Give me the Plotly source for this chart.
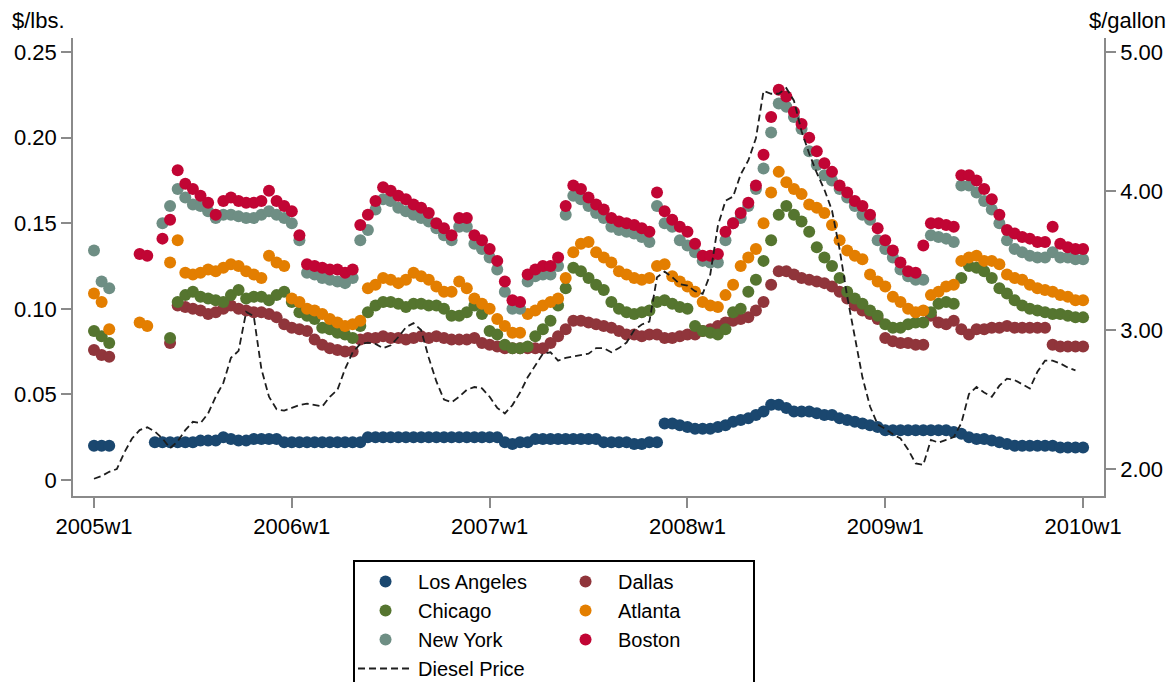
import plotly.graph_objects as go

# weeks since 2005w1 (biweekly observations)
weeks = list(range(0, 261, 2))
tick_weeks = [0, 52, 104, 156, 208, 260]
tick_labels = ["2005w1", "2006w1", "2007w1", "2008w1", "2009w1", "2010w1"]

los_angeles = [
    0.020, 0.020, 0.020, None, None, None, None, None, 0.022, 0.022,
    0.022, 0.022, 0.022, 0.022, 0.023, 0.023, 0.023, 0.025, 0.024, 0.023,
    0.023, 0.024, 0.024, 0.024, 0.024, 0.022, 0.022, 0.022, 0.022, 0.022,
    0.022, 0.022, 0.022, 0.022, 0.022, 0.022, 0.025, 0.025, 0.025, 0.025,
    0.025, 0.025, 0.025, 0.025, 0.025, 0.025, 0.025, 0.025, 0.025, 0.025,
    0.025, 0.025, 0.025, 0.025, 0.022, 0.021, 0.022, 0.022, 0.024, 0.024,
    0.024, 0.024, 0.024, 0.024, 0.024, 0.024, 0.024, 0.022, 0.022, 0.022,
    0.022, 0.021, 0.021, 0.022, 0.022, 0.033, 0.033, 0.032, 0.031, 0.030,
    0.030, 0.030, 0.031, 0.032, 0.034, 0.035, 0.036, 0.038, 0.040, 0.044,
    0.044, 0.042, 0.040, 0.040, 0.040, 0.039, 0.038, 0.038, 0.036, 0.035,
    0.034, 0.033, 0.032, 0.031, 0.029, 0.029, 0.029, 0.029, 0.029, 0.029,
    0.029, 0.029, 0.029, 0.028, 0.027, 0.025, 0.024, 0.024, 0.023, 0.022,
    0.021, 0.020, 0.020, 0.020, 0.020, 0.020, 0.020, 0.019, 0.019, 0.019,
    0.019,
]

dallas = [
    0.076, 0.073, 0.072, None, None, None, None, None, None, None,
    0.080, 0.102, 0.101, 0.100, 0.099, 0.097, 0.098, 0.100, 0.102, 0.100,
    0.099, 0.098, 0.098, 0.097, 0.095, 0.091, 0.089, 0.088, 0.087, 0.082,
    0.079, 0.077, 0.076, 0.075, 0.075, 0.082, 0.083, 0.083, 0.084, 0.083,
    0.083, 0.082, 0.083, 0.084, 0.083, 0.084, 0.083, 0.082, 0.082, 0.082,
    0.083, 0.080, 0.079, 0.078, 0.077, 0.077, 0.077, 0.077, 0.077, 0.077,
    0.080, 0.084, 0.088, 0.093, 0.093, 0.092, 0.091, 0.090, 0.089, 0.087,
    0.085, 0.085, 0.084, 0.085, 0.085, 0.083, 0.083, 0.084, 0.085, 0.085,
    0.087, 0.088, 0.090, 0.092, 0.093, 0.094, 0.095, 0.099, 0.104, 0.114,
    0.122, 0.122, 0.120, 0.118, 0.117, 0.116, 0.115, 0.113, 0.110, 0.106,
    0.102, 0.099, 0.097, 0.094, 0.083, 0.081, 0.080, 0.080, 0.079, 0.079,
    0.096, 0.092, 0.091, 0.093, 0.088, 0.085, 0.088, 0.088, 0.089, 0.089,
    0.090, 0.089, 0.089, 0.089, 0.089, 0.089, 0.079, 0.078, 0.078, 0.078,
    0.078,
]

chicago = [
    0.087, 0.084, 0.080, None, None, None, None, None, None, None,
    0.083, 0.104, 0.108, 0.110, 0.107, 0.106, 0.105, 0.104, 0.108, 0.111,
    0.106, 0.107, 0.107, 0.105, 0.108, 0.110, 0.104, 0.098, 0.096, 0.094,
    0.089, 0.088, 0.086, 0.085, 0.083, 0.090, 0.098, 0.102, 0.104, 0.104,
    0.103, 0.101, 0.103, 0.103, 0.102, 0.102, 0.100, 0.096, 0.096, 0.098,
    0.102, 0.097, 0.087, 0.085, 0.079, 0.077, 0.077, 0.078, 0.084, 0.088,
    0.093, 0.102, 0.112, 0.124, 0.122, 0.118, 0.114, 0.111, 0.104, 0.100,
    0.098, 0.097, 0.098, 0.099, 0.104, 0.105, 0.103, 0.101, 0.100, 0.090,
    0.087, 0.086, 0.085, 0.088, 0.098, 0.100, 0.110, 0.117, 0.128, 0.140,
    0.155, 0.160, 0.155, 0.151, 0.145, 0.136, 0.130, 0.125, 0.118, 0.110,
    0.106, 0.103, 0.099, 0.096, 0.091, 0.089, 0.089, 0.091, 0.092, 0.092,
    0.098, 0.103, 0.104, 0.103, 0.118, 0.125, 0.124, 0.122, 0.118, 0.112,
    0.109, 0.105, 0.102, 0.100, 0.099, 0.098, 0.097, 0.097, 0.096, 0.095,
    0.095,
]

atlanta = [
    0.109, 0.104, 0.088, None, None, None, 0.092, 0.090, None, None,
    0.127, 0.140, 0.121, 0.120, 0.121, 0.123, 0.122, 0.124, 0.126, 0.125,
    0.122, 0.120, 0.118, 0.131, 0.127, 0.125, 0.106, 0.104, 0.100, 0.099,
    0.097, 0.094, 0.092, 0.090, 0.091, 0.093, 0.112, 0.114, 0.118, 0.117,
    0.115, 0.117, 0.121, 0.119, 0.117, 0.113, 0.110, 0.110, 0.116, 0.112,
    0.106, 0.103, 0.100, 0.094, 0.090, 0.086, 0.086, 0.097, 0.099, 0.102,
    0.104, 0.106, 0.118, 0.133, 0.138, 0.139, 0.133, 0.130, 0.127, 0.122,
    0.120, 0.118, 0.117, 0.118, 0.125, 0.126, 0.119, 0.116, 0.113, 0.110,
    0.104, 0.102, 0.101, 0.108, 0.114, 0.125, 0.130, 0.135, 0.150, 0.168,
    0.180, 0.174, 0.170, 0.167, 0.161, 0.159, 0.156, 0.149, 0.140, 0.134,
    0.131, 0.129, 0.120, 0.116, 0.113, 0.107, 0.104, 0.100, 0.098, 0.099,
    0.108, 0.110, 0.113, 0.114, 0.128, 0.130, 0.131, 0.128, 0.128, 0.126,
    0.120, 0.118, 0.117, 0.114, 0.112, 0.111, 0.110, 0.108, 0.107, 0.105,
    0.105,
]

new_york = [
    0.134, 0.116, 0.112, None, None, None, None, None, None, 0.150,
    0.160, 0.170, 0.165, 0.161, 0.160, 0.157, 0.153, 0.155, 0.155, 0.154,
    0.153, 0.153, 0.155, 0.157, 0.155, 0.153, 0.150, 0.140, 0.121, 0.120,
    0.118, 0.117, 0.116, 0.115, 0.118, 0.140, 0.146, 0.158, 0.164, 0.163,
    0.159, 0.157, 0.155, 0.153, 0.151, 0.147, 0.143, 0.140, 0.148, 0.148,
    0.138, 0.135, 0.130, 0.123, 0.110, 0.100, 0.100, 0.116, 0.119, 0.120,
    0.120, 0.125, 0.155, 0.166, 0.164, 0.160, 0.156, 0.153, 0.148, 0.146,
    0.145, 0.144, 0.142, 0.139, 0.160, 0.150, 0.148, 0.140, 0.137, 0.133,
    0.128, 0.127, 0.127, 0.140, 0.150, 0.153, 0.160, 0.170, 0.182, 0.203,
    0.220, 0.218, 0.212, 0.205, 0.192, 0.184, 0.178, 0.175, 0.170, 0.165,
    0.160, 0.155, 0.152, 0.140, 0.135, 0.130, 0.123, 0.119, 0.117, 0.117,
    0.143, 0.142, 0.141, 0.139, 0.172, 0.172, 0.168, 0.163, 0.158, 0.150,
    0.140, 0.135, 0.133, 0.131, 0.130, 0.130, 0.133, 0.130, 0.130, 0.129,
    0.129,
]

boston = [
    None, None, None, None, None, None, 0.132, 0.131, None, 0.141,
    0.152, 0.181, 0.173, 0.170, 0.166, 0.162, 0.155, 0.163, 0.165, 0.163,
    0.162, 0.162, 0.163, 0.169, 0.163, 0.160, 0.157, 0.143, 0.126, 0.125,
    0.124, 0.123, 0.123, 0.121, 0.123, 0.149, 0.155, 0.163, 0.171, 0.169,
    0.166, 0.164, 0.161, 0.159, 0.156, 0.150, 0.147, 0.143, 0.153, 0.153,
    0.143, 0.140, 0.135, 0.128, 0.116, 0.105, 0.104, 0.120, 0.123, 0.125,
    0.125, 0.130, 0.160, 0.172, 0.170, 0.165, 0.161, 0.158, 0.153, 0.151,
    0.150, 0.149, 0.147, 0.145, 0.168, 0.157, 0.152, 0.148, 0.145, 0.138,
    0.131, 0.131, 0.132, 0.145, 0.150, 0.156, 0.162, 0.172, 0.190, 0.212,
    0.228, 0.224, 0.215, 0.208, 0.200, 0.192, 0.185, 0.180, 0.172, 0.168,
    0.163, 0.160, 0.155, 0.147, 0.140, 0.134, 0.127, 0.122, 0.121, 0.137,
    0.150, 0.150, 0.149, 0.148, 0.178, 0.178, 0.175, 0.170, 0.164, 0.155,
    0.146, 0.144, 0.142, 0.141, 0.139, 0.139, 0.148, 0.138, 0.136, 0.135,
    0.135,
]

diesel = [
    1.93, 1.95, 1.98, 2.00, 2.12, 2.22, 2.28, 2.30, 2.27, 2.22,
    2.15, 2.20, 2.28, 2.34, 2.33, 2.40, 2.52, 2.62, 2.80, 2.85,
    3.13, 3.10, 2.72, 2.52, 2.43, 2.42, 2.44, 2.46, 2.47, 2.46,
    2.45, 2.52, 2.57, 2.72, 2.84, 2.90, 2.91, 2.90, 2.87, 2.89,
    2.95, 3.02, 3.05, 3.00, 2.80, 2.63, 2.50, 2.48, 2.52, 2.57,
    2.59, 2.58, 2.52, 2.44, 2.40, 2.46, 2.55, 2.66, 2.75, 2.83,
    2.84, 2.78, 2.80, 2.81, 2.82, 2.83, 2.87, 2.87, 2.84, 2.87,
    2.91, 3.00, 3.04, 3.06, 3.38, 3.42, 3.38, 3.33, 3.32, 3.28,
    3.26, 3.40, 3.75, 3.93, 3.96, 4.12, 4.22, 4.38, 4.72, 4.70,
    4.70, 4.74, 4.65, 4.43, 4.27, 4.13, 4.01, 3.86, 3.58, 3.24,
    2.95, 2.66, 2.45, 2.32, 2.29, 2.25, 2.22, 2.14, 2.04, 2.03,
    2.21, 2.19, 2.21, 2.23, 2.33, 2.54, 2.59, 2.55, 2.52, 2.60,
    2.65, 2.64, 2.61, 2.58, 2.70, 2.78, 2.78, 2.76, 2.73, 2.71,
    None,
]

left_ticks = [0, 0.05, 0.10, 0.15, 0.20, 0.25]
left_labels = ["0", "0.05", "0.10", "0.15", "0.20", "0.25"]
right_ticks = [2, 3, 4, 5]
right_labels = ["2.00", "3.00", "4.00", "5.00"]

FONT = "Liberation Sans, Arial, Helvetica, sans-serif"
AX = "#8a8a8a"

series = [
    ("Los Angeles", los_angeles, "#1a476f", "a"),
    ("Dallas", dallas, "#90353b", "b"),
    ("Chicago", chicago, "#55752f", "a"),
    ("Atlanta", atlanta, "#e37e00", "b"),
    ("New York", new_york, "#6e8e84", "a"),
    ("Boston", boston, "#c10534", "b"),
]

fig = go.Figure()
for name, vals, color, grp in series:
    fig.add_trace(go.Scatter(
        x=weeks, y=vals, mode="markers", name=name, legendgroup=grp,
        marker=dict(color=color, size=12, line=dict(width=0)),
    ))
fig.add_trace(go.Scatter(
    x=weeks, y=diesel, mode="lines", name="Diesel Price", legendgroup="a",
    yaxis="y2", line=dict(color="#1e1e1e", width=1.8, dash="7px,4px"),
))

axis_common = dict(
    showgrid=False, zeroline=False, showline=True, linecolor=AX, linewidth=1.5,
    ticks="outside", ticklen=10, tickcolor=AX, tickwidth=1.5,
    tickfont=dict(size=22, color="black", family=FONT),
)

# the page body adds an 8px offset, so the figure is 8px smaller than the window
fig.update_layout(
    width=1167, height=674,
    margin=dict(l=65, r=71, t=30, b=186, autoexpand=False),
    paper_bgcolor="white", plot_bgcolor="white",
    font=dict(family=FONT, size=21, color="black"),
    xaxis=dict(range=[-5.52, 265.5], tickvals=tick_weeks, ticktext=tick_labels,
               **axis_common),
    yaxis=dict(range=[-0.00935, 0.2582], tickvals=left_ticks, ticktext=left_labels,
               **axis_common),
    yaxis2=dict(range=[1.806, 5.101], tickvals=right_ticks, ticktext=right_labels,
                overlaying="y", side="right", anchor="x", **axis_common),
    legend=dict(
        orientation="h", traceorder="grouped", tracegroupgap=0,
        x=0.2716, xanchor="left", y=-0.1397, yanchor="top",
        bordercolor="black", borderwidth=2, bgcolor="white",
        font=dict(size=20, family=FONT, color="black"),
        itemwidth=55, entrywidth=130,
    ),
    showlegend=True,
    annotations=[
        dict(text="$/lbs.", xref="paper", yref="paper", x=-0.0611, y=1.039,
             xanchor="left", yanchor="middle", showarrow=False,
             font=dict(size=22, family=FONT, color="black")),
        dict(text="$/gallon", xref="paper", yref="paper", x=1.062, y=1.039,
             xanchor="right", yanchor="middle", showarrow=False,
             font=dict(size=22, family=FONT, color="black")),
    ],
)

fig.write_html("out.html")
